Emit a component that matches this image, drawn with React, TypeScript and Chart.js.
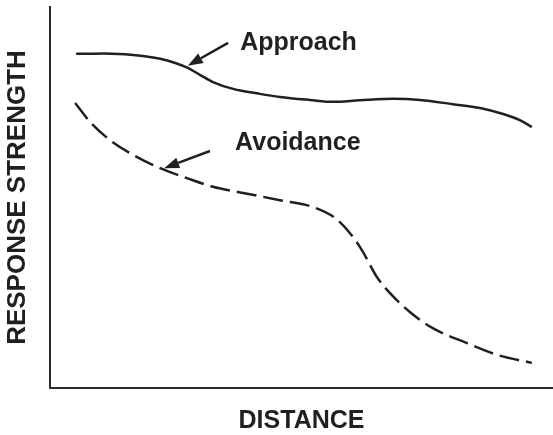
import React, { useEffect, useRef } from "react";
import { Chart, registerables } from "chart.js";

Chart.register(...registerables);

// Approach (solid) curve
const approachX = [5.2, 10.9, 16.5, 21.9, 24.9, 27.4, 29.8, 32.4, 36.4, 41.7, 45.7, 51.7, 56.3, 61.6, 68.2, 73.6, 80.1, 85.5, 90.1, 93.4, 95.8];
const approachY = [87.7, 87.8, 87.4, 86.4, 85.3, 84.0, 82.2, 80.3, 78.5, 77.2, 76.4, 75.6, 75.1, 75.5, 75.9, 75.6, 74.5, 73.5, 71.9, 70.3, 68.5];

// Avoidance (dashed) curve
const avoidX = [5.0, 8.0, 11.9, 16.5, 21.9, 27.2, 32.4, 38.4, 45.7, 52.3, 56.7, 59.6, 62.0, 65.0, 67.6, 71.6, 76.1, 82.9, 88.9, 95.8];
const avoidY = [74.8, 69.8, 65.1, 61.2, 57.7, 55.1, 52.8, 51.2, 49.3, 47.5, 44.6, 40.7, 36.2, 29.1, 24.9, 19.9, 15.7, 11.8, 8.7, 6.6];

// Annotation labels and arrows (data units)
const labelTexts = ["Approach", "Avoidance"];
const labelX = [37.8, 36.8];
const labelY = [88.7, 62.5];
const arrowFromX = [35.4, 31.8];
const arrowFromY = [90.6, 62.2];
const arrowToX = [27.4, 22.7];
const arrowToY = [84.6, 57.7];

const FONT = "'Liberation Sans', Arial, Helvetica, sans-serif";
const INK = "#231f20";

const annotationPlugin = {
  id: "annotations",
  afterDatasetsDraw(chart: any) {
    const { ctx, scales } = chart;
    const xs = scales.x;
    const ys = scales.y;
    ctx.save();
    ctx.strokeStyle = INK;
    ctx.fillStyle = INK;
    ctx.lineWidth = 2.5;
    ctx.setLineDash([]);
    for (let i = 0; i < arrowFromX.length; i++) {
      const x1 = xs.getPixelForValue(arrowFromX[i]);
      const y1 = ys.getPixelForValue(arrowFromY[i]);
      const x2 = xs.getPixelForValue(arrowToX[i]);
      const y2 = ys.getPixelForValue(arrowToY[i]);
      const ang = Math.atan2(y2 - y1, x2 - x1);
      const headLen = 15;
      const headHalf = 5.5;
      const bx = x2 - headLen * Math.cos(ang);
      const by = y2 - headLen * Math.sin(ang);
      ctx.beginPath();
      ctx.moveTo(x1, y1);
      ctx.lineTo(bx, by);
      ctx.stroke();
      ctx.beginPath();
      ctx.moveTo(x2, y2);
      ctx.lineTo(bx + headHalf * Math.sin(ang), by - headHalf * Math.cos(ang));
      ctx.lineTo(bx - headHalf * Math.sin(ang), by + headHalf * Math.cos(ang));
      ctx.closePath();
      ctx.fill();
    }
    ctx.font = `bold 25px ${FONT}`;
    ctx.textAlign = "left";
    ctx.textBaseline = "alphabetic";
    for (let i = 0; i < labelTexts.length; i++) {
      ctx.fillText(labelTexts[i], xs.getPixelForValue(labelX[i]), ys.getPixelForValue(labelY[i]));
    }
    ctx.restore();
  },
};

export default function App() {
  const ref = useRef<HTMLCanvasElement | null>(null);

  useEffect(() => {
    document.body.style.margin = "0";
    const canvas = ref.current;
    if (!canvas) return;
    const chart = new Chart(canvas, {
      type: "line",
      data: {
        datasets: [
          {
            label: "Approach",
            data: approachX.map((x, i) => ({ x, y: approachY[i] })),
            borderColor: INK,
            borderWidth: 2.5,
            pointRadius: 0,
            cubicInterpolationMode: "monotone",
            fill: false,
          },
          {
            label: "Avoidance",
            data: avoidX.map((x, i) => ({ x, y: avoidY[i] })),
            borderColor: INK,
            borderWidth: 2.5,
            borderDash: [20, 7],
            pointRadius: 0,
            cubicInterpolationMode: "monotone",
            fill: false,
          },
        ],
      },
      options: {
        animation: false,
        responsive: false,
        devicePixelRatio: 1,
        layout: { padding: { top: 7, left: 0, right: 0, bottom: 0 } },
        plugins: {
          legend: { display: false },
          tooltip: { enabled: false },
        },
        scales: {
          x: {
            type: "linear",
            min: 0,
            max: 100,
            ticks: { display: false },
            grid: { display: false, drawTicks: false },
            border: { display: true, color: "#2b2b2b", width: 2 },
            title: {
              display: true,
              text: "DISTANCE",
              color: INK,
              font: { family: FONT, size: 25, weight: "bold", lineHeight: 1 },
              padding: { top: 20.5, bottom: 1.5 },
            },
          },
          y: {
            type: "linear",
            min: 0,
            max: 100,
            ticks: { display: false },
            grid: { display: false, drawTicks: false },
            border: { display: true, color: "#2b2b2b", width: 2 },
            title: {
              display: true,
              text: "RESPONSE STRENGTH",
              color: INK,
              font: { family: FONT, size: 26, weight: "bold", lineHeight: 1 },
              padding: { top: 4.5, bottom: 19.5 },
            },
          },
        },
      },
      plugins: [annotationPlugin],
    });
    return () => chart.destroy();
  }, []);

  return (
    <div style={{ position: "absolute", left: 0, top: 0, width: 553, height: 435, background: "#fff" }}>
      <canvas ref={ref} width={553} height={435} style={{ display: "block" }} />
    </div>
  );
}
